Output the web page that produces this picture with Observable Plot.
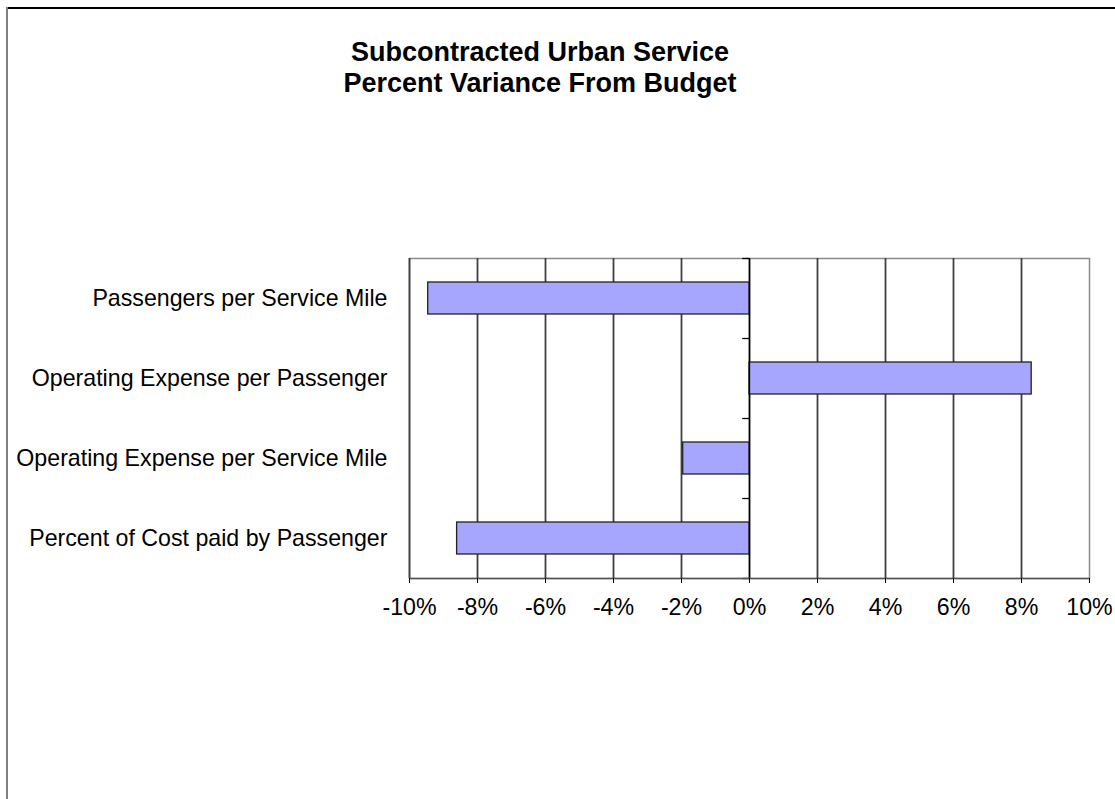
<!DOCTYPE html>
<html>
<head>
<meta charset="utf-8">
<script src="https://cdn.jsdelivr.net/npm/d3@7"></script>
<script src="https://cdn.jsdelivr.net/npm/@observablehq/plot@0.6"></script>
<style>
  html, body { margin: 0; padding: 0; background: #fff; }
  #wrap { position: relative; width: 1115px; height: 799px; overflow: hidden; font-family: "Liberation Sans", Arial, sans-serif; }
  #topline { position: absolute; left: 6px; top: 7px; width: 1109px; height: 2px; background: #000; }
  #leftline { position: absolute; left: 6px; top: 7px; width: 2px; height: 792px; background: #808080; }
  #title { position: absolute; left: 0; top: 37px; width: 1080px; text-align: center; font-weight: bold; font-size: 27px; line-height: 31px; color: #000; }
  #chart { position: absolute; left: 0; top: 0; }
</style>
</head>
<body>
<div id="wrap">
  <div id="topline"></div>
  <div id="leftline"></div>
  <div id="chart"></div>
  <div id="title">Subcontracted Urban Service<br>Percent Variance From Budget</div>
</div>
<script>
const categories = [
  "Passengers per Service Mile",
  "Operating Expense per Passenger",
  "Operating Expense per Service Mile",
  "Percent of Cost paid by Passenger"
];
const values = [-9.45, 8.3, -1.95, -8.6];
const xTicks = [-10, -8, -6, -4, -2, 0, 2, 4, 6, 8, 10];

const data = categories.map((c, i) => ({category: c, value: values[i]}));
const innerTicks = xTicks.filter(t => t !== xTicks[0] && t !== xTicks[xTicks.length - 1]);

const chart = Plot.plot({
  width: 1115,
  height: 799,
  marginLeft: 409,
  marginRight: 26,
  marginTop: 258,
  marginBottom: 221,
  style: {fontFamily: "'Liberation Sans', Arial, sans-serif", fontSize: "23.2px", color: "#000", background: "transparent"},
  x: {domain: [xTicks[0], xTicks[xTicks.length - 1]]},
  y: {domain: categories, paddingInner: 0.6, paddingOuter: 0.3},
  marks: [
    Plot.frame({stroke: "#8a8a8a", strokeWidth: 1.5}),
    Plot.ruleX(innerTicks, {stroke: "#404040", strokeWidth: 1.8}),
    Plot.ruleX([xTicks[0]], {stroke: "#404040", strokeWidth: 1.8}),
    Plot.barX(data, {x: "value", y: "category", fill: "#a6a6ff", stroke: "#222", strokeWidth: 1.3}),
    Plot.ruleX([0], {stroke: "#000", strokeWidth: 1.3}),
    Plot.ruleY(categories, {x1: 0, x2: -0.2, dy: 40, stroke: "#000", strokeWidth: 1.3}),
    Plot.ruleY([categories[0]], {x1: 0, x2: -0.2, dy: -40, stroke: "#000", strokeWidth: 1.3}),
    Plot.ruleY([categories[categories.length - 1]], {dy: 40, stroke: "#555", strokeWidth: 1.3}),
    Plot.axisX({ticks: xTicks, tickFormat: d => d + "%", tickSize: 5, tickPadding: 15, stroke: "#000", label: null, fill: "#000"}),
    Plot.axisY({tickSize: 0, tickPadding: 22, label: null, fill: "#000"})
  ]
});
document.getElementById("chart").appendChild(chart);
</script>
</body>
</html>
